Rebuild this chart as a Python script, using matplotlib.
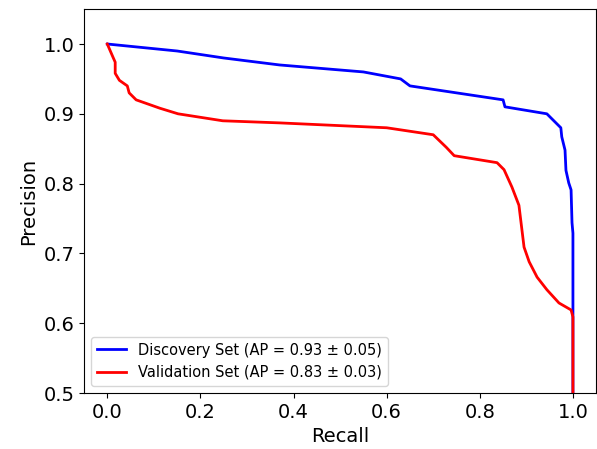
import matplotlib
matplotlib.use("Agg")
import matplotlib.pyplot as plt

# precision-recall curves
disc_recall = [0.0, 0.15, 0.25, 0.37, 0.55, 0.63, 0.65, 0.80, 0.850, 0.854, 0.944, 0.953,
               0.974, 0.976, 0.983, 0.985, 0.991, 0.996, 0.998, 1.0, 1.0, 1.0]
disc_precision = [1.0, 0.99, 0.98, 0.97, 0.96, 0.95, 0.94, 0.925, 0.920, 0.910, 0.900, 0.894,
                  0.880, 0.867, 0.848, 0.819, 0.801, 0.791, 0.744, 0.729, 0.609, 0.5]

val_recall = [0.0, 0.013, 0.017, 0.017, 0.026, 0.043, 0.047, 0.062, 0.113, 0.152, 0.248,
              0.37, 0.60, 0.70, 0.728, 0.745, 0.837, 0.852, 0.869, 0.884, 0.895, 0.906,
              0.923, 0.944, 0.970, 0.996, 1.0, 1.0]
val_precision = [1.0, 0.98, 0.974, 0.958, 0.948, 0.94, 0.93, 0.92, 0.908, 0.90, 0.89,
                 0.887, 0.88, 0.87, 0.852, 0.84, 0.83, 0.82, 0.795, 0.769, 0.709, 0.688,
                 0.666, 0.648, 0.629, 0.619, 0.609, 0.5]

disc_label = "Discovery Set (AP = 0.93 ± 0.05)"
val_label = "Validation Set (AP = 0.83 ± 0.03)"

fig = plt.figure(figsize=(5.97, 4.49), dpi=100)
ax = fig.add_axes([0.1407, 0.1247, 0.858, 0.855])

ax.plot(disc_recall, disc_precision, color="blue", lw=2, label=disc_label)
ax.plot(val_recall, val_precision, color="red", lw=2, label=val_label)

ax.set_xlim(-0.05, 1.05)
ax.set_ylim(0.5, 1.05)
ax.set_xticks([0.0, 0.2, 0.4, 0.6, 0.8, 1.0])
ax.set_yticks([0.5, 0.6, 0.7, 0.8, 0.9, 1.0])
ax.tick_params(labelsize=14)
ax.set_xlabel("Recall", fontsize=14)
ax.set_ylabel("Precision", fontsize=14)
ax.legend(loc="lower left", fontsize=10.5)

fig.savefig("out.png", dpi=100)
